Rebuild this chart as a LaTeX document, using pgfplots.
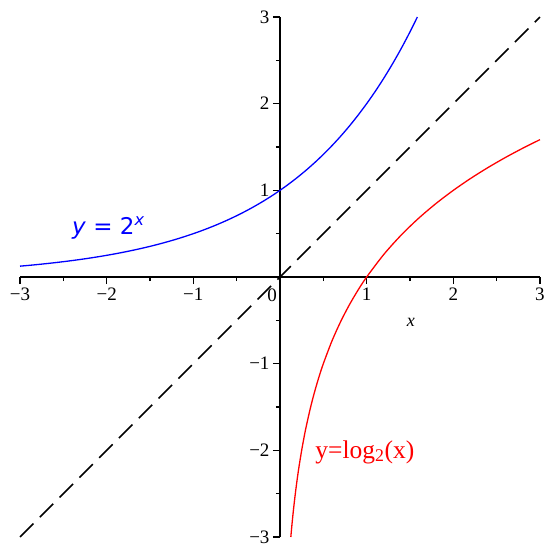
\documentclass[border=0pt]{standalone}
\usepackage{pgfplots}
\pgfplotsset{compat=1.18}
\usepackage{fontspec}
\setmainfont{Liberation Serif}
\newfontfamily\dejavu{DejaVu Sans}
\begin{document}
\begin{tikzpicture}
\begin{axis}[
  at={(0,0)}, anchor=south west,
  scale only axis, width=520bp, height=520bp,
  axis lines=middle,
  xmin=-3, xmax=3, ymin=-3, ymax=3,
  axis line style={line width=1.3bp, -},
  xtick={-3,-2,-1,1,2,3}, xticklabels={−3,−2,−1,1,2,3},
  ytick={-3,-2,-1,1,2,3}, yticklabels={−3,−2,−1,1,2,3},
  minor xtick={-2.5,-1.5,-0.5,0.5,1.5,2.5},
  minor ytick={-2.5,-1.5,-0.5,0.5,1.5,2.5},
  tick align=outside,
  major tick length=7bp, minor tick length=4bp,
  every tick/.style={line width=1.3bp, black},
  tick label style={font=\fontsize{19bp}{21bp}\selectfont},
  clip=false,
]
\addplot[blue, line width=1.3bp, smooth] coordinates {
(-3,0.125) (-2.9,0.13397) (-2.8,0.14359) (-2.7,0.15389) (-2.6,0.16494) (-2.5,0.17678)
(-2.4,0.18946) (-2.3,0.20306) (-2.2,0.21764) (-2.1,0.23326) (-2.0,0.25) (-1.9,0.26794)
(-1.8,0.28717) (-1.7,0.30779) (-1.6,0.32988) (-1.5,0.35355) (-1.4,0.37893) (-1.3,0.40613)
(-1.2,0.43528) (-1.1,0.46652) (-1.0,0.5) (-0.9,0.53589) (-0.8,0.57435) (-0.7,0.61557)
(-0.6,0.65975) (-0.5,0.70711) (-0.4,0.75786) (-0.3,0.81225) (-0.2,0.87055) (-0.1,0.93303)
(0,1) (0.1,1.07177) (0.2,1.14870) (0.3,1.23114) (0.4,1.31951) (0.5,1.41421) (0.6,1.51572)
(0.7,1.62450) (0.8,1.74110) (0.9,1.86607) (1.0,2) (1.1,2.14355) (1.2,2.29740)
(1.3,2.46229) (1.4,2.63902) (1.5,2.82843) (1.585,3.0)
};
\addplot[red, line width=1.3bp, smooth] coordinates {
(0.125,-3) (0.13,-2.943) (0.14,-2.8365) (0.15,-2.737) (0.16,-2.644) (0.18,-2.474)
(0.2,-2.3219) (0.22,-2.1844) (0.25,-2) (0.28,-1.8365) (0.3,-1.737) (0.35,-1.5146)
(0.4,-1.3219) (0.45,-1.152) (0.5,-1) (0.6,-0.737) (0.7,-0.5146) (0.8,-0.3219)
(0.9,-0.152) (1.0,0) (1.2,0.263) (1.4,0.4854) (1.6,0.6781) (1.8,0.848) (2.0,1)
(2.2,1.1375) (2.4,1.263) (2.6,1.3785) (2.8,1.4854) (3.0,1.585)
};
\addplot[black, line width=1.5bp, dash pattern=on 19bp off 9bp] coordinates {(-3,-3) (3,3)};
\node[font=\fontsize{19bp}{21bp}\selectfont] at (axis cs:-0.09,-0.21) {0};
\node[font=\fontsize{18bp}{20bp}\selectfont\itshape] at (axis cs:1.51,-0.52) {x};
\node[blue, font=\fontsize{23bp}{26bp}\dejavu] at (axis cs:-1.98,0.56) {\textit{y} = 2\textsuperscript{\textit{x}}};
\node[red, font=\fontsize{25.5bp}{28bp}\selectfont] at (axis cs:0.98,-2.02) {y=log\textsubscript{2}(x)};
\end{axis}
\pgfresetboundingbox
\useasboundingbox (-20bp,-18bp) rectangle (535bp,537bp);
\end{tikzpicture}
\end{document}
